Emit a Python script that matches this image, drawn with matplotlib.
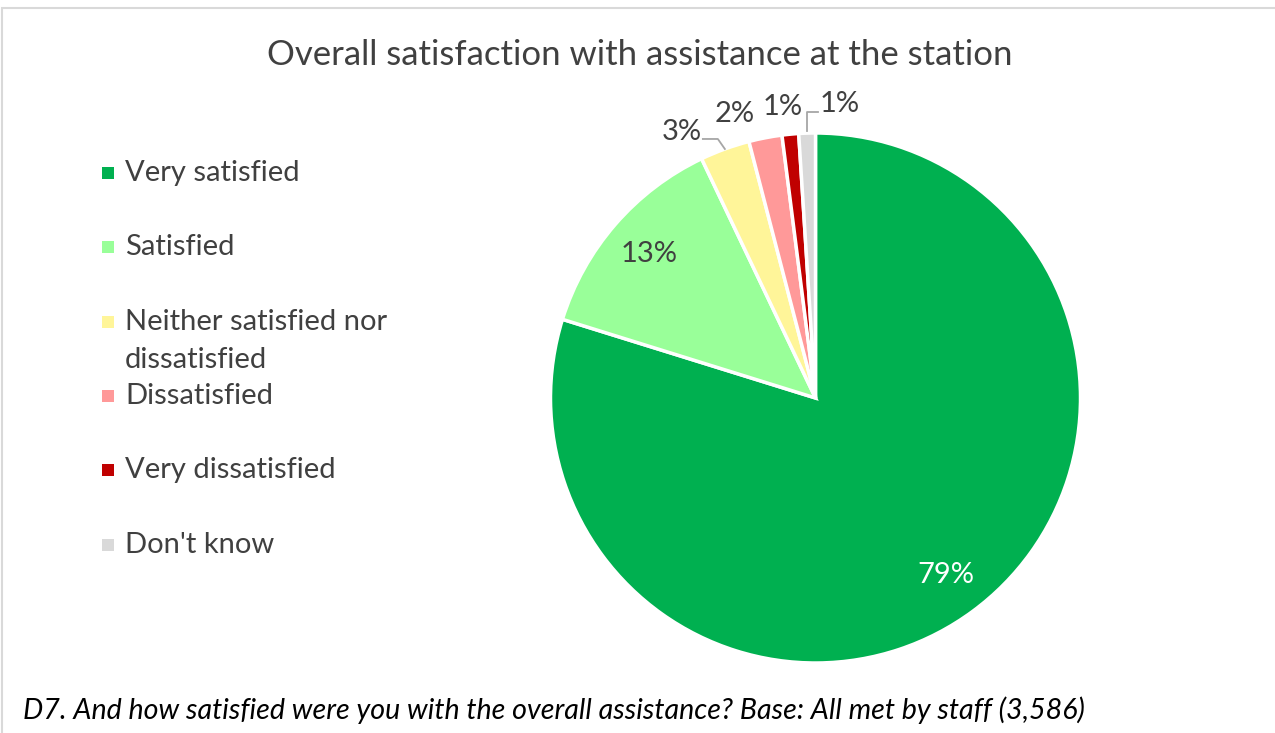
import matplotlib
matplotlib.use("Agg")
import matplotlib.pyplot as plt
import matplotlib.patches as patches
import numpy as np

categories = ["Very satisfied", "Satisfied", "Neither satisfied nor\ndissatisfied",
              "Dissatisfied", "Very dissatisfied", "Don't know"]
values = [79, 13, 3, 2, 1, 1]
colors = ["#00B050", "#99FF99", "#FFF599", "#FF9999", "#C00000", "#D9D9D9"]

title = "Overall satisfaction with assistance at the station"
footnote = "D7. And how satisfied were you with the overall assistance? Base: All met by staff (3,586)"

plt.rcParams['font.family'] = ['Lato', 'DejaVu Sans']
textcol = "#404040"

W, H = 1275, 733
fig = plt.figure(figsize=(W / 100, H / 100), dpi=100)
ax = fig.add_axes([0, 0, 1, 1])

# chart frame
ax.add_patch(patches.Rectangle((2, -20), W + 20, H - 8 + 20, fill=False,
                               edgecolor="#D9D9D9", lw=1.5))

cx, cy, r = 815.5, H - 398, 265
wedges, _ = ax.pie(values, colors=colors, startangle=90, counterclock=False,
                   center=(cx, cy), radius=r, frame=True,
                   wedgeprops=dict(edgecolor="white", linewidth=2.5))
ax.set_xlim(0, W)
ax.set_ylim(0, H)
ax.set_aspect("equal")
ax.axis("off")

def mid(w):
    a = np.deg2rad((w.theta1 + w.theta2) / 2)
    return np.cos(a), np.sin(a)

lab_fs = 21

# inside labels
for i, col in [(0, "white"), (1, textcol)]:
    c, s = mid(wedges[i])
    ax.text(cx + 0.83 * r * c, cy + 0.83 * r * s, f"{values[i]}%", color=col,
            fontsize=lab_fs, ha="center", va="center")

# outside labels, offsets from the wedge edge
offsets = {2: (-43, 17), 3: (-31, 24), 4: (-8, 27), 5: (33, 29)}
for i, (ox, oy) in offsets.items():
    c, s = mid(wedges[i])
    ex, ey = cx + r * c, cy + r * s
    ax.text(ex + ox, ey + oy, f"{values[i]}%", color=textcol,
            fontsize=lab_fs, ha="center", va="center")
    if i == 2:
        ax.plot([ex, ex - 7, ex - 22], [ey, ey + 10, ey + 10], color="#A6A6A6", lw=1.3)
    if i == 5:
        ax.plot([ex, ex, ex + 11], [ey + 2, ey + 21, ey + 21], color="#A6A6A6", lw=1.3)

# legend
leg_y = [173, 247, 322, 396, 470, 545]
for lab, col, y in zip(categories, colors, leg_y):
    ax.add_patch(patches.Rectangle((102, H - y - 6), 12, 12, facecolor=col, edgecolor="none"))
    for k, line in enumerate(lab.split("\n")):
        ax.text(125, H - y - 38 * k, line, color=textcol, fontsize=21,
                ha="left", va="center")

ax.text(640, H - 55, title, color=textcol, fontsize=25, ha="center", va="center")
ax.text(23, H - 710, footnote, color="black", fontsize=20.6, style="italic",
        ha="left", va="center")

fig.savefig("out.png", dpi=100)
